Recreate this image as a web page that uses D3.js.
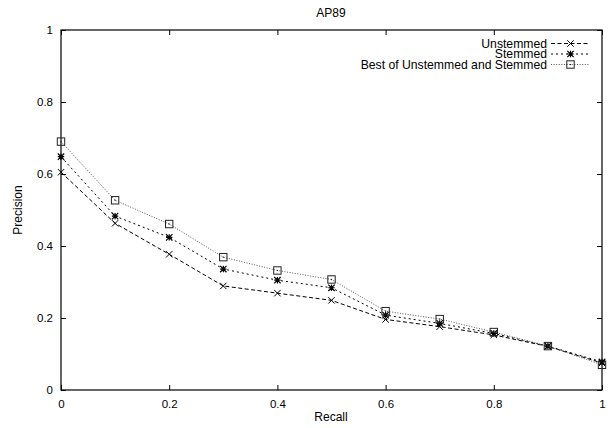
<!DOCTYPE html>
<html><head><meta charset="utf-8">
<script src="https://cdn.jsdelivr.net/npm/d3@7"></script>
<style>body{margin:0;background:#fff}svg{display:block}text{font-family:"Liberation Sans",Arial,Helvetica,sans-serif;fill:#000}</style>
</head><body><svg id="c" width="608" height="428"></svg>
<script>
const recall = [0,0.1,0.2,0.3,0.4,0.5,0.6,0.7,0.8,0.9,1.0];
const unstemmed = [0.605,0.463,0.377,0.289,0.269,0.249,0.196,0.176,0.153,0.121,0.075];
const stemmed = [0.648,0.483,0.424,0.336,0.305,0.284,0.208,0.185,0.157,0.122,0.078];
const best = [0.690,0.527,0.461,0.369,0.332,0.307,0.219,0.197,0.161,0.122,0.070];
const seriesNames = ["Unstemmed","Stemmed","Best of Unstemmed and Stemmed"];
const xTicks = [0,0.2,0.4,0.6,0.8,1];
const yTicks = [0,0.2,0.4,0.6,0.8,1];

const svg = d3.select("#c");
const L=61,R=602,T=30,B=390;
const x = d3.scaleLinear().domain([0,1]).range([L,R]);
const y = d3.scaleLinear().domain([0,1]).range([B,T]);
const fmt = d => d===0?"0":d===1?"1":d3.format(".1f")(d);

const gx = svg.append("g").attr("transform",`translate(0,${B})`)
  .call(d3.axisBottom(x).tickValues(xTicks).tickFormat(fmt).tickSize(-5).tickPadding(10));
const gxt = svg.append("g").attr("transform",`translate(0,${T})`)
  .call(d3.axisTop(x).tickValues(xTicks).tickFormat("").tickSize(-5));
const gy = svg.append("g").attr("transform",`translate(${L},0)`)
  .call(d3.axisLeft(y).tickValues(yTicks).tickFormat(fmt).tickSize(-5).tickPadding(8));
const gyr = svg.append("g").attr("transform",`translate(${R},0)`)
  .call(d3.axisRight(y).tickValues(yTicks).tickFormat("").tickSize(-5));
[gx,gxt,gy,gyr].forEach(g=>{g.select(".domain").remove();g.selectAll("line").attr("stroke","#000");g.selectAll("text").attr("font-size",11.5).attr("font-family","Liberation Sans, Arial, sans-serif");});
svg.append("rect").attr("x",L).attr("y",T).attr("width",R-L).attr("height",B-T).attr("fill","none").attr("stroke","#000").attr("stroke-width",1.2);

svg.append("text").attr("x",331).attr("y",17).attr("text-anchor","middle").attr("font-size",12).text("AP89");
svg.append("text").attr("x",331).attr("y",421).attr("text-anchor","middle").attr("font-size",12).text("Recall");
svg.append("text").attr("transform","translate(22,210) rotate(-90)").attr("text-anchor","middle").attr("font-size",12).text("Precision");

const dashes = ["4,2.5","2,3","1,1.6"];
const strokes = ["#000","#000","#555"];
const data = [unstemmed,stemmed,best];
const line = d3.line().x((d,i)=>x(recall[i])).y(d=>y(d));

function marker(g,type,cx,cy){
  const s=3.2;
  if(type===0){
    g.append("path").attr("d",`M${cx-s},${cy-s}L${cx+s},${cy+s}M${cx-s},${cy+s}L${cx+s},${cy-s}`).attr("stroke","#000").attr("stroke-width",1);
  } else if(type===1){
    g.append("path").attr("d",`M${cx-s},${cy-s}L${cx+s},${cy+s}M${cx-s},${cy+s}L${cx+s},${cy-s}M${cx-s},${cy}L${cx+s},${cy}M${cx},${cy-s}L${cx},${cy+s}`).attr("stroke","#000").attr("stroke-width",1.2);
  } else {
    g.append("rect").attr("x",cx-3.7).attr("y",cy-3.7).attr("width",7.4).attr("height",7.4).attr("fill","none").attr("stroke","#222").attr("stroke-width",1);
    g.append("rect").attr("x",cx-0.6).attr("y",cy-0.6).attr("width",1.2).attr("height",1.2).attr("fill","#222");
  }
}

data.forEach((vals,k)=>{
  const g = svg.append("g");
  g.append("path").datum(vals).attr("d",line).attr("fill","none").attr("stroke",strokes[k]).attr("stroke-width",1).attr("stroke-dasharray",dashes[k]);
  vals.forEach((v,i)=>marker(g,k,x(recall[i]),y(v)));
});

const ly=[43.5,54,64.5];
seriesNames.forEach((n,k)=>{
  svg.append("text").attr("x",547).attr("y",ly[k]+4.2).attr("text-anchor","end").attr("font-size",12.2).text(n);
  svg.append("line").attr("x1",551).attr("x2",589).attr("y1",ly[k]).attr("y2",ly[k]).attr("stroke",strokes[k]).attr("stroke-width",1).attr("stroke-dasharray",dashes[k]);
  marker(svg,k,570.5,ly[k]);
});
</script></body></html>
